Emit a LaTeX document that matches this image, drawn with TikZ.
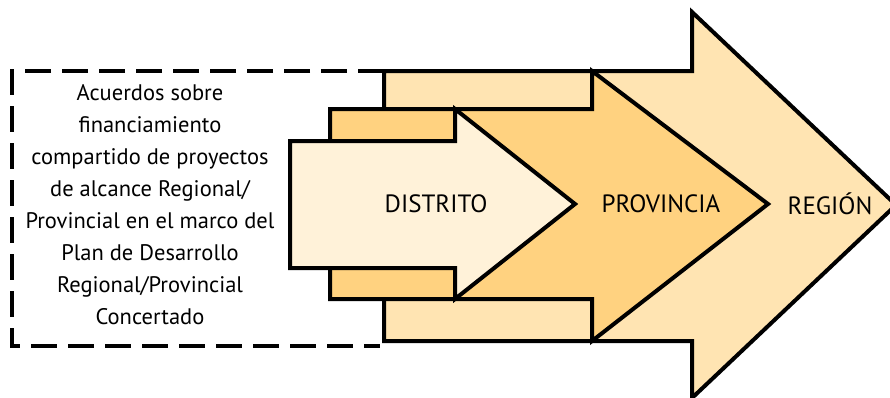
\documentclass[tikz,border=0pt]{standalone}
\usepackage{fontspec}
\setmainfont{PT Sans}
\usetikzlibrary{positioning}
\definecolor{regioncol}{RGB}{255,228,178}
\definecolor{provinciacol}{RGB}{255,210,128}
\definecolor{distritocol}{RGB}{255,242,217}
\begin{document}
\begin{tikzpicture}[x=1pt,y=-1pt,
  flecha/.style={draw=black,line width=4pt,line join=miter},
  etiqueta/.style={font=\fontsize{25}{28}\selectfont,inner sep=0pt}]
\useasboundingbox (0,0) rectangle (890,397);
\clip (0,0) rectangle (890,397);
\draw[black,line width=4pt,dash pattern=on 26pt off 11pt] (384,71) -- (12,71) -- (12,346) -- (380,346);
\draw[flecha,fill=regioncol] (384,71) -- (692,71) -- (692,12) -- (896,205) -- (692,398) -- (692,341) -- (384,341) -- cycle;
\draw[flecha,fill=provinciacol] (330,109) -- (592,109) -- (592,71) -- (768,204) -- (592,341) -- (592,299) -- (330,299) -- cycle;
\draw[flecha,fill=distritocol] (290,141) -- (455,141) -- (455,109) -- (575,204) -- (455,299) -- (455,268) -- (290,268) -- cycle;
\node at (150,205)[align=center,inner sep=0pt,font=\fontsize{22.5}{32}\selectfont](acuerdos){Acuerdos sobre\\financiamiento\\compartido de proyectos\\de alcance Regional/\\Provincial en el marco del\\Plan de Desarrollo\\Regional/Provincial\\Concertado};
\node at (436,204)[etiqueta](distrito){DISTRITO};
\node at (661,204)[etiqueta](provincia){PROVINCIA};
\node at (830,204)[etiqueta](region){REGIÓN};
\end{tikzpicture}
\end{document}
